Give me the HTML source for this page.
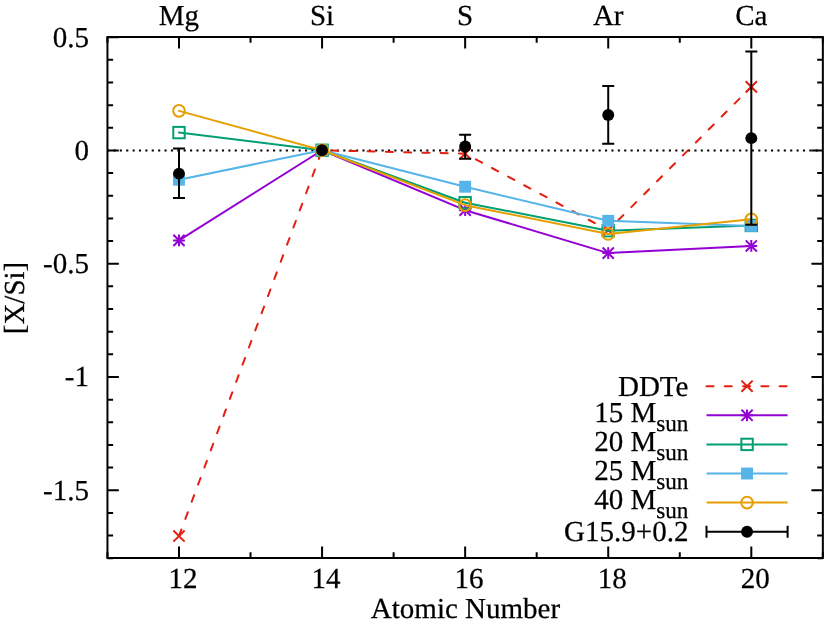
<!DOCTYPE html><html><head><meta charset="utf-8"><style>html,body{margin:0;padding:0;background:#fff}svg{display:block;will-change:transform}text{font-family:"Liberation Serif",serif;fill:#000;stroke:#000;stroke-width:0.25px;text-rendering:geometricPrecision}</style></head><body>
<svg width="826" height="620" viewBox="0 0 826 620">
<rect width="826" height="620" fill="#fff"/>
<line x1="107.45" y1="150.46" x2="822.85" y2="150.46" stroke="#000" stroke-width="2" stroke-dasharray="2.1,4.2843" stroke-dashoffset="0.4"/>
<path d="M107.45,558.0V552.35M107.45,37.0V42.65M178.99,558.0V546.6M178.99,37.0V48.4M250.53,558.0V552.35M250.53,37.0V42.65M322.07,558.0V546.6M322.07,37.0V48.4M393.61,558.0V552.35M393.61,37.0V42.65M465.15,558.0V546.6M465.15,37.0V48.4M536.69,558.0V552.35M536.69,37.0V42.65M608.23,558.0V546.6M608.23,37.0V48.4M679.77,558.0V552.35M679.77,37.0V42.65M751.31,558.0V546.6M751.31,37.0V48.4M822.85,558.0V552.35M822.85,37.0V42.65M107.45,558.20H113.10000000000001M822.85,558.20H817.2M107.45,535.55H113.10000000000001M822.85,535.55H817.2M107.45,512.90H113.10000000000001M822.85,512.90H817.2M107.45,490.24H118.85000000000001M822.85,490.24H811.45M107.45,467.59H113.10000000000001M822.85,467.59H817.2M107.45,444.94H113.10000000000001M822.85,444.94H817.2M107.45,422.29H113.10000000000001M822.85,422.29H817.2M107.45,399.63H113.10000000000001M822.85,399.63H817.2M107.45,376.98H118.85000000000001M822.85,376.98H811.45M107.45,354.33H113.10000000000001M822.85,354.33H817.2M107.45,331.68H113.10000000000001M822.85,331.68H817.2M107.45,309.03H113.10000000000001M822.85,309.03H817.2M107.45,286.37H113.10000000000001M822.85,286.37H817.2M107.45,263.72H118.85000000000001M822.85,263.72H811.45M107.45,241.07H113.10000000000001M822.85,241.07H817.2M107.45,218.42H113.10000000000001M822.85,218.42H817.2M107.45,195.77H113.10000000000001M822.85,195.77H817.2M107.45,173.11H113.10000000000001M822.85,173.11H817.2M107.45,150.46H118.85000000000001M822.85,150.46H811.45M107.45,127.81H113.10000000000001M822.85,127.81H817.2M107.45,105.16H113.10000000000001M822.85,105.16H817.2M107.45,82.50H113.10000000000001M822.85,82.50H817.2M107.45,59.85H113.10000000000001M822.85,59.85H817.2M107.45,37.20H118.85000000000001M822.85,37.20H811.45" stroke="#000" stroke-width="2.0" fill="none"/>
<path d="M178.99,536.03L322.07,150.26L465.15,153.66L608.23,230.22L751.31,86.83" stroke="#e51e10" stroke-width="2.0" stroke-linejoin="round" fill="none" stroke-dasharray="7.03,11.25" stroke-linecap="round"/>
<path d="M173.39,530.43L184.59,541.63M173.39,541.63L184.59,530.43" stroke="#e51e10" stroke-width="2.0" fill="none"/>
<path d="M316.47,144.66L327.67,155.86M316.47,155.86L327.67,144.66" stroke="#e51e10" stroke-width="2.0" fill="none"/>
<path d="M459.55,148.06L470.75,159.26M459.55,159.26L470.75,148.06" stroke="#e51e10" stroke-width="2.0" fill="none"/>
<path d="M602.63,224.62L613.83,235.82M602.63,235.82L613.83,224.62" stroke="#e51e10" stroke-width="2.0" fill="none"/>
<path d="M745.71,81.23L756.91,92.43M745.71,92.43L756.91,81.23" stroke="#e51e10" stroke-width="2.0" fill="none"/>
<path d="M178.99,240.42L322.07,150.26L465.15,210.18L608.23,253.10L751.31,245.94" stroke="#9400d3" stroke-width="2.0" stroke-linejoin="round" fill="none" stroke-linecap="round"/>
<path d="M173.39,234.82L184.59,246.02M173.39,246.02L184.59,234.82" stroke="#9400d3" stroke-width="2.0" fill="none"/><path d="M173.09,240.42L184.89,240.42M178.99,234.52L178.99,246.32" stroke="#9400d3" stroke-width="2.0" fill="none"/>
<path d="M316.47,144.66L327.67,155.86M316.47,155.86L327.67,144.66" stroke="#9400d3" stroke-width="2.0" fill="none"/><path d="M316.17,150.26L327.97,150.26M322.07,144.36L322.07,156.16" stroke="#9400d3" stroke-width="2.0" fill="none"/>
<path d="M459.55,204.58L470.75,215.78M459.55,215.78L470.75,204.58" stroke="#9400d3" stroke-width="2.0" fill="none"/><path d="M459.25,210.18L471.05,210.18M465.15,204.28L465.15,216.08" stroke="#9400d3" stroke-width="2.0" fill="none"/>
<path d="M602.63,247.50L613.83,258.70M602.63,258.70L613.83,247.50" stroke="#9400d3" stroke-width="2.0" fill="none"/><path d="M602.33,253.10L614.13,253.10M608.23,247.20L608.23,259.00" stroke="#9400d3" stroke-width="2.0" fill="none"/>
<path d="M745.71,240.34L756.91,251.54M745.71,251.54L756.91,240.34" stroke="#9400d3" stroke-width="2.0" fill="none"/><path d="M745.41,245.94L757.21,245.94M751.31,240.04L751.31,251.84" stroke="#9400d3" stroke-width="2.0" fill="none"/>
<path d="M178.99,132.59L322.07,150.26L465.15,202.70L608.23,230.68L751.31,225.47" stroke="#009e73" stroke-width="2.0" stroke-linejoin="round" fill="none" stroke-linecap="round"/>
<rect x="173.29" y="126.89" width="11.4" height="11.4" stroke="#009e73" stroke-width="2.0" fill="none"/>
<rect x="316.37" y="144.56" width="11.4" height="11.4" stroke="#009e73" stroke-width="2.0" fill="none"/>
<rect x="459.45" y="197.00" width="11.4" height="11.4" stroke="#009e73" stroke-width="2.0" fill="none"/>
<rect x="602.53" y="224.98" width="11.4" height="11.4" stroke="#009e73" stroke-width="2.0" fill="none"/>
<rect x="745.61" y="219.77" width="11.4" height="11.4" stroke="#009e73" stroke-width="2.0" fill="none"/>
<path d="M178.99,179.71L322.07,150.26L465.15,186.73L608.23,220.82L751.31,225.92" stroke="#56b4e9" stroke-width="2.0" stroke-linejoin="round" fill="none" stroke-linecap="round"/>
<rect x="173.04" y="173.76" width="11.9" height="11.9" fill="#56b4e9"/>
<rect x="316.12" y="144.31" width="11.9" height="11.9" fill="#56b4e9"/>
<rect x="459.20" y="180.78" width="11.9" height="11.9" fill="#56b4e9"/>
<rect x="602.28" y="214.87" width="11.9" height="11.9" fill="#56b4e9"/>
<rect x="745.36" y="219.97" width="11.9" height="11.9" fill="#56b4e9"/>
<path d="M178.99,110.85L322.07,150.26L465.15,205.19L608.23,234.01L751.31,219.35" stroke="#e69f00" stroke-width="2.0" stroke-linejoin="round" fill="none" stroke-linecap="round"/>
<circle cx="178.99" cy="110.85" r="5.85" stroke="#e69f00" stroke-width="2.0" fill="none"/>
<circle cx="322.07" cy="150.26" r="5.85" stroke="#e69f00" stroke-width="2.0" fill="none"/>
<circle cx="465.15" cy="205.19" r="5.85" stroke="#e69f00" stroke-width="2.0" fill="none"/>
<circle cx="608.23" cy="234.01" r="5.85" stroke="#e69f00" stroke-width="2.0" fill="none"/>
<circle cx="751.31" cy="219.35" r="5.85" stroke="#e69f00" stroke-width="2.0" fill="none"/>
<path d="M178.99,198.06V148.61M172.99,198.06h12M172.99,148.61h12" stroke="#000" stroke-width="2.0" fill="none"/>
<circle cx="178.99" cy="173.59" r="5.95" fill="#000"/>
<circle cx="322.07" cy="150.26" r="5.95" fill="#000"/>
<path d="M465.15,158.73V134.86M459.15,158.73h12M459.15,134.86h12" stroke="#000" stroke-width="2.0" fill="none"/>
<circle cx="465.15" cy="146.55" r="5.95" fill="#000"/>
<path d="M608.23,143.78V86.09M602.23,143.78h12M602.23,86.09h12" stroke="#000" stroke-width="2.0" fill="none"/>
<circle cx="608.23" cy="114.92" r="5.95" fill="#000"/>
<path d="M751.31,224.79V51.61M745.31,224.79h12M745.31,51.61h12" stroke="#000" stroke-width="2.0" fill="none"/>
<circle cx="751.31" cy="138.16" r="5.95" fill="#000"/>
<rect x="107.45" y="37.0" width="715.4" height="521.0" fill="none" stroke="#000" stroke-width="2.0"/>
<text x="89" y="46.50" font-size="29.0" text-anchor="end">0.5</text>
<text x="89" y="159.76" font-size="29.0" text-anchor="end">0</text>
<text x="89" y="273.02" font-size="29.0" text-anchor="end">-0.5</text>
<text x="89" y="386.28" font-size="29.0" text-anchor="end">-1</text>
<text x="89" y="499.54" font-size="29.0" text-anchor="end">-1.5</text>
<text x="182.89" y="588.2" font-size="29.0" text-anchor="middle">12</text>
<text x="325.97" y="588.2" font-size="29.0" text-anchor="middle">14</text>
<text x="469.05" y="588.2" font-size="29.0" text-anchor="middle">16</text>
<text x="612.13" y="588.2" font-size="29.0" text-anchor="middle">18</text>
<text x="755.21" y="588.2" font-size="29.0" text-anchor="middle">20</text>
<text x="178.99" y="24.7" font-size="29.0" text-anchor="middle">Mg</text>
<text x="322.07" y="24.7" font-size="29.0" text-anchor="middle">Si</text>
<text x="465.15" y="24.7" font-size="29.0" text-anchor="middle">S</text>
<text x="608.23" y="24.7" font-size="29.0" text-anchor="middle">Ar</text>
<text x="751.31" y="24.7" font-size="29.0" text-anchor="middle">Ca</text>
<text x="465.5" y="617.6" font-size="29.0" text-anchor="middle">Atomic Number</text>
<text transform="translate(24,298) rotate(-90)" font-size="29.0" text-anchor="middle">[X/Si]</text>
<text x="688.4" y="395.50" font-size="29.0" text-anchor="end">DDTe</text>
<line x1="706.5" y1="386.2" x2="787.6" y2="386.2" stroke="#e51e10" stroke-width="2.0" stroke-dasharray="7.03,11.25" stroke-linecap="round"/>
<path d="M741.45,380.60L752.65,391.80M741.45,391.80L752.65,380.60" stroke="#e51e10" stroke-width="2.0" fill="none"/>
<text x="688.4" y="421.50" font-size="29.0" text-anchor="end">15 M<tspan font-size="23.20" dy="9.1">sun</tspan></text>
<line x1="706.5" y1="415.3" x2="787.6" y2="415.3" stroke="#9400d3" stroke-width="2.0"/>
<path d="M741.45,409.70L752.65,420.90M741.45,420.90L752.65,409.70" stroke="#9400d3" stroke-width="2.0" fill="none"/><path d="M741.15,415.30L752.95,415.30M747.05,409.40L747.05,421.20" stroke="#9400d3" stroke-width="2.0" fill="none"/>
<text x="688.4" y="450.60" font-size="29.0" text-anchor="end">20 M<tspan font-size="23.20" dy="9.1">sun</tspan></text>
<line x1="706.5" y1="444.4" x2="787.6" y2="444.4" stroke="#009e73" stroke-width="2.0"/>
<rect x="741.35" y="438.70" width="11.4" height="11.4" stroke="#009e73" stroke-width="2.0" fill="none"/>
<text x="688.4" y="479.70" font-size="29.0" text-anchor="end">25 M<tspan font-size="23.20" dy="9.1">sun</tspan></text>
<line x1="706.5" y1="473.5" x2="787.6" y2="473.5" stroke="#56b4e9" stroke-width="2.0"/>
<rect x="741.10" y="467.55" width="11.9" height="11.9" fill="#56b4e9"/>
<text x="688.4" y="508.80" font-size="29.0" text-anchor="end">40 M<tspan font-size="23.20" dy="9.1">sun</tspan></text>
<line x1="706.5" y1="502.6" x2="787.6" y2="502.6" stroke="#e69f00" stroke-width="2.0"/>
<circle cx="747.05" cy="502.60" r="5.85" stroke="#e69f00" stroke-width="2.0" fill="none"/>
<text x="688.4" y="541.00" font-size="29.0" text-anchor="end">G15.9+0.2</text>
<path d="M706.5,531.7H787.6M706.5,525.7v12M787.6,525.7v12" stroke="#000" stroke-width="2.0" fill="none"/>
<circle cx="747.05" cy="531.70" r="5.95" fill="#000"/>
</svg></body></html>
